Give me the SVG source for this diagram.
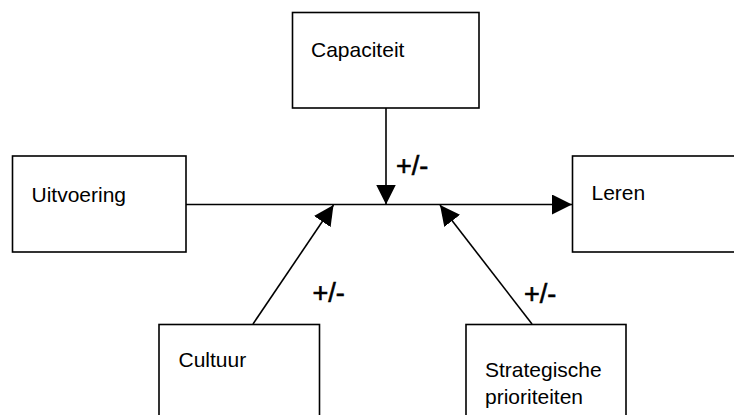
<svg xmlns="http://www.w3.org/2000/svg" width="734" height="415" viewBox="0 0 734 415">
<style>
.box{fill:#fff;stroke:#000;stroke-width:1.6}
.lbl{font-family:"Liberation Sans",Arial,sans-serif;font-size:21px;fill:#000}
.pm{font-family:"Liberation Sans",Arial,sans-serif;font-size:27px;fill:#000;stroke:#000;stroke-width:0.6}
.con{stroke:#000;stroke-width:1.6;fill:none}
</style>
<defs>
<marker id="ah" markerUnits="userSpaceOnUse" markerWidth="20" markerHeight="20" refX="20" refY="10" orient="auto" viewBox="0 0 20 20">
<path d="M0,0 L20,10 L0,20 z" fill="#000"/>
</marker>
</defs>
<rect width="734" height="415" fill="#fff"/>
<g id="connectors">
<line class="con" x1="386" y1="108" x2="386" y2="204.5" marker-end="url(#ah)"/>
<line class="con" x1="186" y1="204.5" x2="572" y2="204.5" marker-end="url(#ah)"/>
<line class="con" x1="253" y1="324" x2="333.5" y2="205" marker-end="url(#ah)"/>
<line class="con" x1="532" y1="324" x2="440" y2="205" marker-end="url(#ah)"/>
</g>
<g id="capaciteit">
<rect class="box" x="292.5" y="12.5" width="186.5" height="95.5"/>
<text class="lbl" x="311" y="57">Capaciteit</text>
</g>
<g id="uitvoering">
<rect class="box" x="12.5" y="156" width="173.5" height="96"/>
<text class="lbl" x="31.5" y="202">Uitvoering</text>
</g>
<g id="leren">
<rect class="box" x="572.5" y="156" width="190" height="96"/>
<text class="lbl" x="591.5" y="200">Leren</text>
</g>
<g id="cultuur">
<rect class="box" x="159" y="324.5" width="160.5" height="110"/>
<text class="lbl" x="178.5" y="367">Cultuur</text>
</g>
<g id="strategische">
<rect class="box" x="466" y="324.5" width="160" height="110"/>
<text class="lbl" x="485" y="377">Strategische</text>
<text class="lbl" x="485" y="403.5">prioriteiten</text>
</g>
<g id="labels">
<text class="pm" x="396" y="175">+/-</text>
<text class="pm" x="312.5" y="302">+/-</text>
<text class="pm" x="524" y="303">+/-</text>
</g>
</svg>
